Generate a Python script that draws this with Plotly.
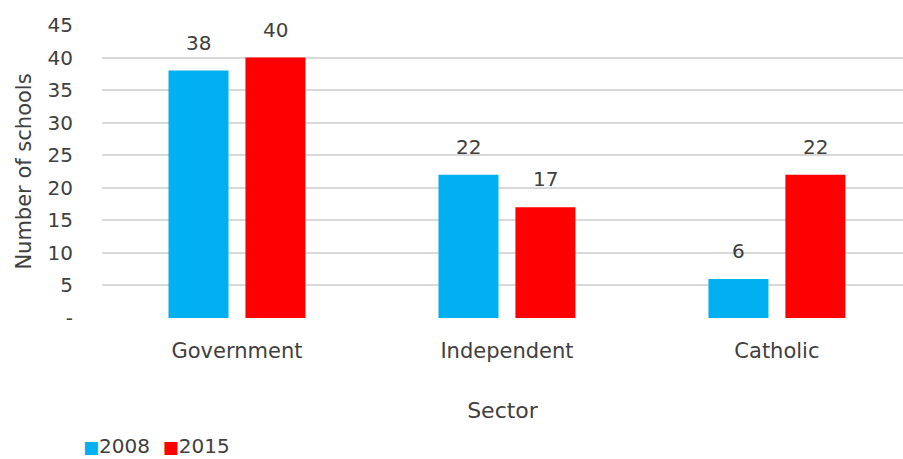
import plotly.graph_objects as go

# Schools by sector, 2008 vs 2015
sectors = ["Government", "Independent", "Catholic"]
years = ["2008", "2015"]
counts_2008 = [38, 22, 6]
counts_2015 = [40, 17, 22]
y_ticks = [0, 5, 10, 15, 20, 25, 30, 35, 40, 45]
y_tick_labels = ["-", "5", "10", "15", "20", "25", "30", "35", "40", "45"]

colors = ["#00B0F0", "#FF0000"]
series = [counts_2008, counts_2015]
FONT = "DejaVu Sans, sans-serif"
TXT = "#404040"
W, H = 903, 459
ML, MR, MT, MB = 102, 0, 25, 141

fig = go.Figure()
for name, vals, col in zip(years, series, colors):
    fig.add_trace(go.Bar(x=sectors, y=vals, name=name, marker=dict(color=col, line=dict(width=0)),
                         showlegend=False))

# value labels above each bar
shift = 38.5
annotations = []
for vals, sx in zip(series, [-shift, shift]):
    for cat, v in zip(sectors, vals):
        annotations.append(dict(x=cat, y=v, xref="x", yref="y", text=str(v), showarrow=False,
                                xshift=sx, yshift=14, yanchor="bottom",
                                font=dict(family=FONT, size=20, color=TXT)))

# legend row (paper coordinates derived from pixel position)
legend_text = "&nbsp;".join(
    f"<span style='color:{c};font-size:17px'>■</span>{y}&nbsp;" for y, c in zip(years, colors))
annotations.append(dict(x=(81 - ML) / (W - ML - MR), y=(H - MB - 446) / (H - MT - MB),
                        xref="paper", yref="paper", text=legend_text, showarrow=False,
                        xanchor="left", yanchor="middle",
                        font=dict(family=FONT, size=20, color=TXT)))

fig.update_layout(
    width=W, height=H,
    margin=dict(l=ML, r=MR, t=MT, b=MB),
    paper_bgcolor="white", plot_bgcolor="white",
    barmode="group", bargap=0.43, bargroupgap=0.22,
    font=dict(family=FONT, size=20, color=TXT),
    xaxis=dict(range=[-0.5, 2.467], showgrid=False, zeroline=False, showline=False,
               ticks="", tickfont=dict(size=21, color=TXT), ticklabelstandoff=18,
               title=dict(text="Sector", font=dict(size=22, color=TXT), standoff=40)),
    yaxis=dict(range=[0, 45], tickvals=y_ticks, ticktext=y_tick_labels,
               showgrid=True, gridcolor="#D9D9D9", gridwidth=2, zeroline=False,
               showline=False, ticks="", ticklabelstandoff=28,
               tickfont=dict(size=20, color=TXT),
               title=dict(text="Number of schools", font=dict(size=21, color=TXT), standoff=10)),
    annotations=annotations,
)

fig.write_html("out.html")
